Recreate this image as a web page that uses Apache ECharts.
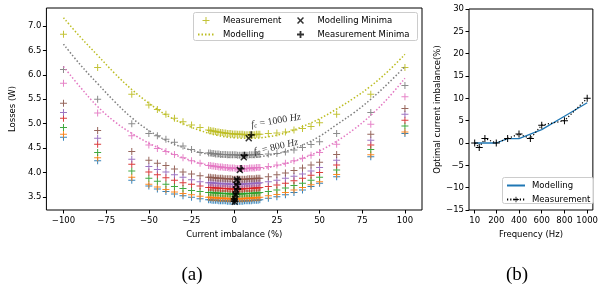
<!DOCTYPE html>
<html>
<head>
<meta charset="utf-8">
<script src="https://cdn.jsdelivr.net/npm/echarts@6/dist/echarts.min.js"></script>
<style>
html,body{margin:0;padding:0;background:#fff;}
#c{width:601px;height:289px;}
</style>
</head>
<body>
<div id="c"></div>
<script>
// ---------- DATA: panel (a) ----------
const xImbalance = [-100,-80,-60,-50,-45,-40,-35,-30,-25,-20,
  -15,-14,-13,-12,-11,-10,-9,-8,-7,-6,-5,-4,-3,-2,-1,0,1,2,3,4,5,6,7,8,9,10,11,12,13,14,15,
  20,25,30,35,40,45,50,60,80,100];

const lossBlue = [4.72,4.24,3.84,3.72,3.66,3.61,3.56,3.52,3.49,3.46,
  3.44,3.44,3.43,3.43,3.43,3.43,3.42,3.42,3.42,3.42,3.42,3.41,3.41,3.41,3.41,3.41,3.41,3.41,3.41,3.41,3.41,3.42,3.42,3.42,3.42,3.42,3.43,3.43,3.43,3.43,3.44,
  3.47,3.50,3.54,3.59,3.64,3.71,3.78,3.91,4.32,4.80];
const lossOrange = [4.78,4.30,3.90,3.76,3.70,3.65,3.60,3.57,3.54,3.51,
  3.49,3.49,3.48,3.48,3.48,3.48,3.47,3.47,3.47,3.47,3.47,3.46,3.46,3.46,3.46,3.46,3.46,3.46,3.46,3.46,3.46,3.47,3.47,3.47,3.47,3.47,3.48,3.48,3.48,3.48,3.49,
  3.52,3.55,3.59,3.64,3.69,3.75,3.81,3.96,4.36,4.83];
const lossGreen = [4.92,4.41,4.03,3.88,3.82,3.76,3.71,3.67,3.63,3.61,
  3.59,3.59,3.59,3.58,3.58,3.58,3.58,3.57,3.57,3.57,3.57,3.57,3.56,3.56,3.56,3.56,3.56,3.56,3.56,3.56,3.56,3.57,3.57,3.57,3.57,3.57,3.58,3.58,3.58,3.58,3.59,
  3.61,3.64,3.68,3.73,3.78,3.84,3.90,4.05,4.47,4.95];
const lossRed = [5.11,4.58,4.17,4.01,3.95,3.89,3.84,3.79,3.76,3.72,
  3.69,3.69,3.69,3.68,3.68,3.68,3.68,3.67,3.67,3.67,3.67,3.67,3.66,3.66,3.66,3.66,3.66,3.66,3.66,3.66,3.66,3.67,3.67,3.67,3.67,3.67,3.68,3.68,3.68,3.68,3.69,
  3.71,3.74,3.78,3.83,3.88,3.94,4.00,4.15,4.56,5.07];
const lossPurple = [5.23,4.70,4.27,4.12,4.06,4.01,3.95,3.90,3.85,3.81,
  3.79,3.79,3.79,3.78,3.78,3.78,3.78,3.77,3.77,3.77,3.77,3.77,3.76,3.76,3.76,3.76,3.76,3.76,3.76,3.76,3.76,3.77,3.77,3.77,3.77,3.77,3.78,3.78,3.78,3.78,3.79,
  3.81,3.84,3.88,3.92,3.97,4.03,4.10,4.25,4.66,5.19];
const lossBrown = [5.42,4.86,4.43,4.25,4.19,4.14,4.07,4.01,3.97,3.93,
  3.90,3.90,3.89,3.89,3.89,3.88,3.88,3.88,3.88,3.87,3.87,3.87,3.87,3.87,3.86,3.86,3.86,3.86,3.86,3.86,3.86,3.86,3.86,3.87,3.87,3.87,3.87,3.87,3.88,3.88,3.88,
  3.91,3.95,3.99,4.04,4.09,4.15,4.21,4.37,4.78,5.31];
const lossPink = [5.83,5.22,4.75,4.56,4.49,4.43,4.37,4.30,4.24,4.19,
  4.14,4.14,4.13,4.13,4.12,4.12,4.11,4.11,4.11,4.10,4.10,4.10,4.09,4.09,4.09,4.09,4.08,4.08,4.08,4.08,4.08,4.08,4.08,4.08,4.09,4.09,4.09,4.09,4.10,4.10,4.10,
  4.12,4.15,4.19,4.24,4.29,4.35,4.41,4.58,4.99,5.55];
const lossGray = [6.11,5.50,5.00,4.80,4.75,4.68,4.62,4.54,4.47,4.41,
  4.40,4.40,4.39,4.39,4.38,4.38,4.38,4.37,4.37,4.37,4.37,4.36,4.36,4.36,4.36,4.36,4.36,4.35,4.35,4.35,4.35,4.35,4.35,4.35,4.36,4.36,4.36,4.36,4.37,4.37,4.37,
  4.38,4.39,4.42,4.46,4.51,4.57,4.63,4.80,5.23,5.78];
const lossOlive = [6.83,6.15,5.60,5.38,5.29,5.19,5.11,5.04,4.97,4.92,
  4.87,4.86,4.85,4.85,4.84,4.83,4.83,4.82,4.82,4.81,4.81,4.80,4.80,4.80,4.79,4.79,4.79,4.78,4.78,4.78,4.78,4.77,4.77,4.77,4.77,4.77,4.77,4.77,4.78,4.78,4.78,
  4.80,4.81,4.83,4.87,4.90,4.94,5.02,5.19,5.60,6.15];

// modelling curves (dotted)
const xModel = [-100,-90,-80,-70,-60,-50,-40,-30,-20,-10,0,10,20,30,40,50,60,70,80,90,100];
const modelPink  = [6.17,5.74,5.35,5.04,4.80,4.60,4.44,4.30,4.19,4.11,4.06,4.06,4.10,4.18,4.29,4.44,4.64,4.88,5.17,5.52,5.93];
const modelGray  = [6.63,6.20,5.82,5.45,5.12,4.86,4.66,4.51,4.41,4.34,4.31,4.31,4.35,4.43,4.56,4.74,4.98,5.22,5.50,5.82,6.17];
const modelOlive = [7.17,6.77,6.40,6.03,5.70,5.42,5.18,5.00,4.86,4.76,4.71,4.70,4.73,4.81,4.94,5.10,5.30,5.52,5.77,6.07,6.42];

// minima
const modelMinX = [8.5,5.6,3.3,1.5,1.2,1.0,0.8,0.5,0.3];
const modelMinY = [4.70,4.31,4.05,3.85,3.75,3.65,3.55,3.45,3.40];
const measMinX = [10,6,4,2,2,2,1,0,0];
const measMinY = [4.77,4.35,4.08,3.86,3.76,3.66,3.56,3.46,3.41];

const xTicksA = [-100,-75,-50,-25,0,25,50,75,100];
const yTicksA = [3.5,4.0,4.5,5.0,5.5,6.0,6.5,7.0];

// ---------- DATA: panel (b) ----------
const freqs = [10,50,100,200,300,400,500,600,800,1000];
const optModel = [0,0,0,0,1,1,2,3,6,9];
const optMeas  = [0,-1,1,0,1,2,1,4,5,10];
const xTicksB = [10,200,400,600,800,1000];

// ---------- STYLE ----------
const C = {blue:'#1f77b4',orange:'#ff7f0e',green:'#2ca02c',red:'#d62728',purple:'#9467bd',
  brown:'#8c564b',pink:'#e377c2',gray:'#7f7f7f',olive:'#bcbd22'};
const plusPath = 'path://M0,3H3V0H4V3H7V4H4V7H3V4H0Z';
const plusBold = 'path://M0,2.6H2.6V0H4.4V2.6H7V4.4H4.4V7H2.6V4.4H0Z';
const crossPath = 'path://M0,1.5L1.5,0L5,3.5L8.5,0L10,1.5L6.5,5L10,8.5L8.5,10L5,6.5L1.5,10L0,8.5L3.5,5Z';
const FONT = 'DejaVu Sans';
const minus = v => (v < 0 ? '\u2212' + Math.abs(v) : String(v));

const pair = (xs, ys) => xs.map((x, i) => [x, ys[i]]);

const measList = [
  ['m-blue', lossBlue, C.blue], ['m-orange', lossOrange, C.orange], ['m-green', lossGreen, C.green],
  ['m-red', lossRed, C.red], ['m-purple', lossPurple, C.purple], ['m-brown', lossBrown, C.brown],
  ['m-pink', lossPink, C.pink], ['m-gray', lossGray, C.gray], ['Measurement', lossOlive, C.olive]
];
const series = [];
measList.forEach(([name, vals, col]) => {
  series.push({type:'scatter', name, xAxisIndex:0, yAxisIndex:0, data: pair(xImbalance, vals),
    symbol: plusPath, symbolSize: 7, itemStyle:{color: col, opacity: 0.9}, silent:true, z:2});
});
[['mod-pink', modelPink, C.pink], ['mod-gray', modelGray, C.gray], ['Modelling', modelOlive, C.olive]].forEach(([name, vals, col]) => {
  series.push({type:'line', name, xAxisIndex:0, yAxisIndex:0, data: pair(xModel, vals), smooth:0.4,
    symbol:'circle', showSymbol:false, lineStyle:{color: col, width:1.5, type:[1.5,2]}, itemStyle:{color:col}, silent:true, z:3});
});
series.push({type:'scatter', name:'Modelling Minima', xAxisIndex:0, yAxisIndex:0, data: pair(modelMinX, modelMinY),
  symbol: crossPath, symbolSize: 7, itemStyle:{color:'#000'}, z:5});
series.push({type:'scatter', name:'Measurement Minima', xAxisIndex:0, yAxisIndex:0, data: pair(measMinX, measMinY),
  symbol: plusBold, symbolSize: 7, itemStyle:{color:'#000'}, z:5});

series.push({type:'line', name:'Modelling (b)', xAxisIndex:1, yAxisIndex:1, data: pair(freqs, optModel),
  symbol:'circle', showSymbol:false, lineStyle:{color:C.blue, width:1.3}, itemStyle:{color:C.blue}, z:3});
series.push({type:'line', name:'Measurement (b)', xAxisIndex:1, yAxisIndex:1, data: pair(freqs, optMeas),
  symbol: plusPath, symbolSize: 7, showSymbol:true, lineStyle:{color:'#000', width:1.2, type:[1.2,2]}, itemStyle:{color:'#000'}, z:4});

const axisText = {color:'#000', fontFamily: FONT, fontSize: 8.5};
const nameText = {color:'#000', fontFamily: FONT, fontSize: 8.5};
const legText = {color:'#000', fontFamily: FONT, fontSize: 8.5, padding:[0,0,0,4]};

const option = {
  animation:false,
  backgroundColor:'#fff',
  grid:[
    {left:40, top:8, width:382, height:202, show:true, borderColor:'#000', borderWidth:1, containLabel:false},
    {left:469, top:9, width:127, height:201, show:true, borderColor:'#000', borderWidth:1, containLabel:false}
  ],
  xAxis:[
    {type:'value', gridIndex:0, min:-110, max:110,
      axisLine:{show:false, onZero:false}, splitLine:{show:false},
      axisTick:{show:true, length:3.5, customValues:xTicksA, lineStyle:{color:'#000'}},
      axisLabel:{customValues:xTicksA, formatter:v=>minus(v), margin:6, ...axisText},
      name:'Current imbalance (%)', nameLocation:'middle', nameGap:17, nameTextStyle:nameText},
    {type:'value', gridIndex:1, min:-40, max:1050,
      axisLine:{show:false, onZero:false}, splitLine:{show:false},
      axisTick:{show:true, length:3.5, customValues:xTicksB, lineStyle:{color:'#000'}},
      axisLabel:{customValues:xTicksB, formatter:v=>String(v), margin:6, ...axisText},
      name:'Frequency (Hz)', nameLocation:'middle', nameGap:17, nameTextStyle:nameText}
  ],
  yAxis:[
    {type:'value', gridIndex:0, min:3.23, max:7.37,
      axisLine:{show:false, onZero:false}, splitLine:{show:false},
      axisTick:{show:true, length:3.5, customValues:yTicksA, lineStyle:{color:'#000'}},
      axisLabel:{customValues:yTicksA, formatter:v=>v.toFixed(1), margin:5, ...axisText},
      name:'Losses (W)', nameLocation:'middle', nameGap:23, nameTextStyle:nameText},
    {type:'value', gridIndex:1, min:-15, max:30, interval:5,
      axisLine:{show:false, onZero:false}, splitLine:{show:false},
      axisTick:{show:true, length:3.5, lineStyle:{color:'#000'}},
      axisLabel:{formatter:v=>minus(v), margin:5, ...axisText},
      name:'Optimal current imbalance(%)', nameLocation:'middle', nameGap:24, nameTextStyle:nameText}
  ],
  legend:[
    {orient:'vertical', left:197, top:16, padding:0, itemWidth:16, itemHeight:7, itemGap:5,
      data:['Measurement',{name:'Modelling', itemStyle:{opacity:0}}], textStyle:legText, selectedMode:false},
    {orient:'vertical', left:297, top:16, padding:0, itemWidth:16, itemHeight:7, itemGap:5,
      data:['Modelling Minima','Measurement Minima'], textStyle:legText, selectedMode:false},
    {orient:'vertical', left:506, top:181, padding:0, itemWidth:18, itemHeight:7, itemGap:5,
      data:[{name:'Modelling (b)', itemStyle:{opacity:0}},'Measurement (b)'], formatter:n=>n.replace(' (b)',''),
      textStyle:{...axisText, padding:[0,0,0,2]}, selectedMode:false}
  ],
  graphic:[
    {type:'rect', z:3, shape:{x:193.5, y:12.5, width:224, height:28, r:2}, style:{fill:'rgba(255,255,255,0.85)', stroke:'#cccccc', lineWidth:1}},
    {type:'rect', z:3, shape:{x:502.5, y:177.5, width:91, height:26, r:2}, style:{fill:'rgba(255,255,255,0.85)', stroke:'#cccccc', lineWidth:1}},
    {type:'text', z:6, x:276, y:121, rotation:0.16, style:{
      text:'{i|f}{s|c}{n| = 1000 }{i|Hz}', align:'center', verticalAlign:'middle',
      rich:{i:{fontFamily:'Liberation Serif', fontStyle:'italic', fontSize:10, fill:'#333'},
            s:{fontFamily:'Liberation Serif', fontStyle:'italic', fontSize:7, fill:'#333', verticalAlign:'bottom'},
            n:{fontFamily:'Liberation Serif', fontSize:10, fill:'#333'}}}},
    {type:'text', z:6, x:276, y:147, rotation:0.22, style:{
      text:'{i|f}{s|c}{n| = 800 }{i|Hz}', align:'center', verticalAlign:'middle',
      rich:{i:{fontFamily:'Liberation Serif', fontStyle:'italic', fontSize:10, fill:'#333'},
            s:{fontFamily:'Liberation Serif', fontStyle:'italic', fontSize:7, fill:'#333', verticalAlign:'bottom'},
            n:{fontFamily:'Liberation Serif', fontSize:10, fill:'#333'}}}},
    {type:'text', z:6, x:192, y:275, style:{text:'(a)', align:'center', verticalAlign:'middle',
      fontFamily:'Liberation Serif', fontSize:19, fill:'#000'}},
    {type:'text', z:6, x:517, y:275, style:{text:'(b)', align:'center', verticalAlign:'middle',
      fontFamily:'Liberation Serif', fontSize:19, fill:'#000'}}
  ],
  series
};
const chart = echarts.init(document.getElementById('c'), null, {renderer:'canvas'});
chart.setOption(option);
</script>
</body>
</html>
